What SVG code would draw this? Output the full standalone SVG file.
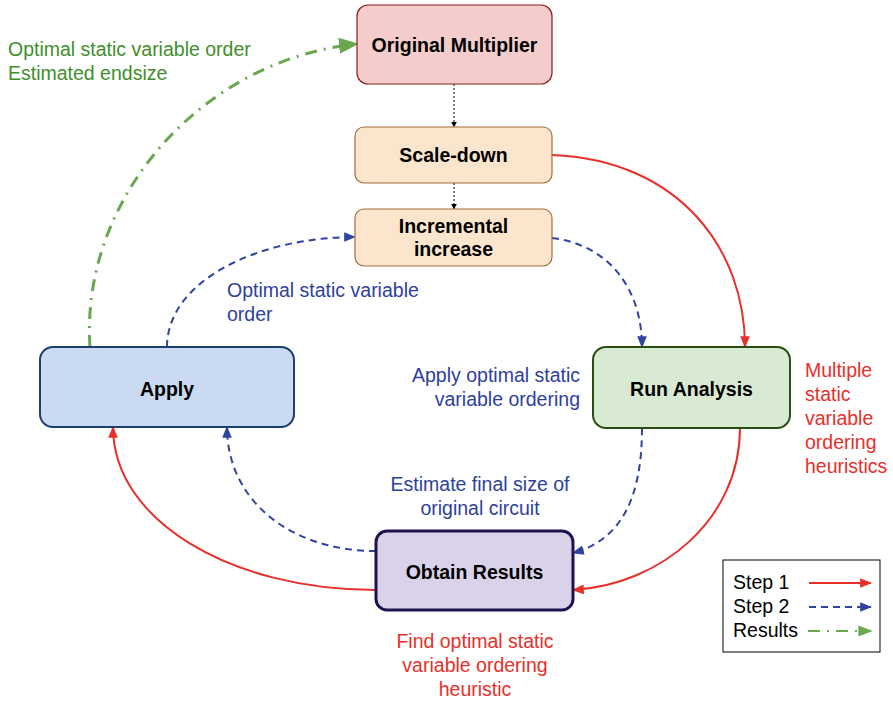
<svg xmlns="http://www.w3.org/2000/svg" width="893" height="701" viewBox="0 0 893 701">
<defs>
<style>
.lbl{font-family:"Liberation Sans",Arial,sans-serif;font-size:19.5px;font-weight:bold;fill:#000;text-anchor:middle}
.t{font-family:"Liberation Sans",Arial,sans-serif;font-size:19.5px}
.g{fill:#3f8f2a}.b{fill:#2e3f9e}.r{fill:#e8302a}
.red{fill:none;stroke:#e8302a;stroke-width:2}
.blue{fill:none;stroke:#2e44a0;stroke-width:2;stroke-dasharray:7,5}
.green{fill:none;stroke:#6aa84f;stroke-width:3;stroke-dasharray:12,7,2,7}
.dot{fill:none;stroke:#000;stroke-width:1;stroke-dasharray:2,2}
</style>
<marker id="ar" viewBox="0 0 10 10" refX="9" refY="5" markerWidth="12" markerHeight="12" markerUnits="userSpaceOnUse" orient="auto"><path d="M0,1L10,5L0,9z" fill="#e8302a"/></marker>
<marker id="ab" viewBox="0 0 10 10" refX="9" refY="5" markerWidth="12" markerHeight="12" markerUnits="userSpaceOnUse" orient="auto"><path d="M0,1L10,5L0,9z" fill="#2e44a0"/></marker>
<marker id="ag" viewBox="0 0 10 10" refX="9" refY="5" markerWidth="20" markerHeight="20" markerUnits="userSpaceOnUse" orient="auto"><path d="M0,1L10,5L0,9z" fill="#6aa84f"/></marker>
<marker id="ag2" viewBox="0 0 10 10" refX="9" refY="5" markerWidth="14" markerHeight="14" markerUnits="userSpaceOnUse" orient="auto"><path d="M0,1L10,5L0,9z" fill="#6aa84f"/></marker>
<marker id="ak" viewBox="0 0 10 10" refX="9" refY="5" markerWidth="6" markerHeight="6" markerUnits="userSpaceOnUse" orient="auto"><path d="M0,0L10,5L0,10z" fill="#000"/></marker>
</defs>
<rect width="893" height="701" fill="#fff"/>
<g id="connectors">
<path class="dot" d="M454,84L454,127" marker-end="url(#ak)"/>
<path class="dot" d="M454,183L454,209" marker-end="url(#ak)"/>
<path class="red" d="M552,155C680,160 745,250 745,347" marker-end="url(#ar)"/>
<path class="blue" d="M552,238C610,245 642,290 642,347" marker-end="url(#ab)"/>
<path class="blue" d="M167,347C167,280 260,237 355,237" marker-end="url(#ab)"/>
<path class="green" d="M90,347C80,200 200,60 357,44" marker-end="url(#ag)"/>
<path class="blue" d="M642,428C642,500 620,540 573,553" marker-end="url(#ab)"/>
<path class="red" d="M740,428C740,520 660,585 573,590" marker-end="url(#ar)"/>
<path class="blue" d="M376,551C290,551 227,500 227,427" marker-end="url(#ab)"/>
<path class="red" d="M376,590C230,590 113,520 113,427" marker-end="url(#ar)"/>
</g>
<g id="original"><rect x="357" y="5" width="195" height="79" rx="11" fill="#f4cccc" stroke="#8a1c1c" stroke-width="1.2"/><text class="lbl" x="454.5" y="52">Original Multiplier</text></g>
<g id="scaledown"><rect x="355" y="127" width="197" height="56" rx="9" fill="#fce5cd" stroke="#a46d3a" stroke-width="1.2"/><text class="lbl" x="453.5" y="162">Scale-down</text></g>
<g id="incremental"><rect x="355" y="209" width="197" height="57" rx="9" fill="#fce5cd" stroke="#a46d3a" stroke-width="1.2"/><text class="lbl" x="453.5" y="233">Incremental</text><text class="lbl" x="453.5" y="256">increase</text></g>
<g id="apply"><rect x="40" y="347" width="254" height="80" rx="13" fill="#c9daf2" stroke="#1c3f6e" stroke-width="2"/><text class="lbl" x="167" y="396">Apply</text></g>
<g id="run"><rect x="593" y="347" width="197" height="81" rx="13" fill="#d9ead3" stroke="#274e13" stroke-width="2"/><text class="lbl" x="691.5" y="396">Run Analysis</text></g>
<g id="obtain"><rect x="376" y="531" width="197" height="79" rx="11" fill="#d9d2e9" stroke="#20124d" stroke-width="3"/><text class="lbl" x="474.5" y="579">Obtain Results</text></g>
<g id="labels">
<text class="t g" x="8" y="56">Optimal static variable order</text>
<text class="t g" x="8" y="80">Estimated endsize</text>
<text class="t b" x="227" y="297">Optimal static variable</text>
<text class="t b" x="227" y="321">order</text>
<text class="t b" x="580" y="382" text-anchor="end">Apply optimal static</text>
<text class="t b" x="580" y="406" text-anchor="end">variable ordering</text>
<text class="t r" x="805" y="377">Multiple</text>
<text class="t r" x="805" y="401">static</text>
<text class="t r" x="805" y="425">variable</text>
<text class="t r" x="805" y="449">ordering</text>
<text class="t r" x="805" y="473">heuristics</text>
<text class="t b" x="480" y="491" text-anchor="middle">Estimate final size of</text>
<text class="t b" x="480" y="515" text-anchor="middle">original circuit</text>
<text class="t r" x="475" y="648" text-anchor="middle">Find optimal static</text>
<text class="t r" x="475" y="672" text-anchor="middle">variable ordering</text>
<text class="t r" x="475" y="696" text-anchor="middle">heuristic</text>
</g>
<g id="legend">
<rect x="723" y="560" width="157" height="92" fill="#fff" stroke="#000" stroke-width="1"/>
<text class="t" x="733" y="589">Step 1</text>
<text class="t" x="733" y="613">Step 2</text>
<text class="t" x="733" y="637">Results</text>
<path class="red" d="M809,583L871,583" marker-end="url(#ar)"/>
<path class="blue" d="M809,607L871,607" marker-end="url(#ab)"/>
<path class="green" style="stroke-width:2" d="M808,631L871,631" marker-end="url(#ag2)"/>
</g>
</svg>
